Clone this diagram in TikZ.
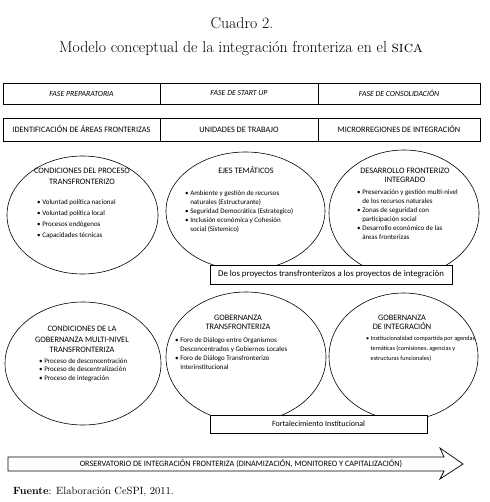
\documentclass[tikz,border=0pt]{standalone}
\usepackage{fontspec}
\newfontfamily\cf{Carlito}
\usetikzlibrary{shapes.geometric}
\newcommand\mybul{\textbullet\ }
\newcommand\myind{\phantom{\textbullet\ }}
\begin{document}
\begin{tikzpicture}[x=1pt,y=-1pt,
  every node/.style={inner sep=0pt},
  ell/.style={draw, ellipse, line width=0.6pt},
  bx/.style={draw, line width=0.8pt, fill=white},
  cellbox/.style={draw, line width=0.8pt},
  phase/.style={font=\cf\fontsize{7.8}{9}\selectfont\itshape},
  unit/.style={font=\cf\fontsize{8.3}{9}\selectfont},
  hdr/.style={font=\cf\fontsize{8.3}{#1}\selectfont, align=center, anchor=north},
  hdr/.default=9,
  bul/.style={font=\cf\fontsize{7}{#1}\selectfont, align=left, anchor=north west},
  bul/.default=9]
\useasboundingbox (0,0) rectangle (489,502);

% titles
\node[font=\fontsize{15.8}{18}\selectfont] (t1) at (242,23) {Cuadro 2.};
\node[font=\fontsize{15.8}{18}\selectfont] (t2) at (241,49) {Modelo conceptual de la integración fronteriza en el \textsc{sica}};

% phase rows
\node[cellbox, phase, minimum width=157pt, minimum height=21pt] (p1) at (81.5,93.5) {FASE PREPARATORIA};
\node[cellbox, phase, minimum width=158pt, minimum height=21pt] (p2) at (239,93.5) {FASE DE START UP};
\node[cellbox, phase, minimum width=162pt, minimum height=21pt] (p3) at (399,93.5) {FASE DE CONSOLIDACIÓN};
\node[cellbox, unit, minimum width=157pt, minimum height=23pt] (u1) at (81.5,129.5) {IDENTIFICACIÓN DE ÁREAS FRONTERIZAS};
\node[cellbox, unit, minimum width=158pt, minimum height=23pt] (u2) at (239,129.5) {UNIDADES DE TRABAJO};
\node[cellbox, unit, minimum width=162pt, minimum height=23pt] (u3) at (399,129.5) {MICRORREGIONES DE INTEGRACIÓN};

% ellipses
\node[ell, minimum width=151pt, minimum height=118pt] (e1) at (82.5,215) {};
\node[ell, minimum width=159pt, minimum height=118pt] (e2) at (245.5,211) {};
\node[ell, minimum width=150pt, minimum height=126pt] (e3) at (404,213) {};
\node[ell, minimum width=156pt, minimum height=123pt] (e4) at (83,363.5) {};
\node[ell, minimum width=160pt, minimum height=130pt] (e5) at (246,357) {};
\node[ell, minimum width=149pt, minimum height=127pt] (e6) at (403.5,356.5) {};

% overlay boxes
\node[bx, minimum width=242pt, minimum height=19pt, font=\cf\fontsize{8.8}{10}\selectfont] (b1) at (331,274.5) {De los proyectos transfronterizos a los proyectos de integración};
\node[bx, minimum width=217pt, minimum height=18pt, font=\cf\fontsize{8}{9}\selectfont] (b2) at (318.5,424) {Fortalecimiento Institucional};

% ellipse texts
\node[hdr=11] (h1) at (82,168) {CONDICIONES DEL PROCESO\\TRANSFRONTERIZO};
\node[bul=11.3] (l1) at (37,199) {\mybul Voluntad política nacional\\\mybul Voluntad política local\\\mybul Procesos endógenos\\\mybul Capacidades técnicas};

\node[hdr] (h2) at (246,166.5) {EJES TEMÁTICOS};
\node[bul] (l2) at (185,190) {\mybul Ambiente y gestión de recursos\\\myind naturales (Estructurante)\\\mybul Seguridad Democrática (Estrategico)\\\mybul Inclusión económica y Cohesión\\\myind social (Sistemico)};

\node[hdr] (h3) at (405,168) {DESARROLLO FRONTERIZO\\INTEGRADO};
\node[bul] (l3) at (357,189) {\mybul Preservación y gestión multi-nivel\\\myind de los recursos naturales\\\mybul Zonas de seguridad con\\\myind participación social\\\mybul Desarrollo económico de las\\\myind áreas fronterizas};

\node[hdr=10.5] (h4) at (82,326) {CONDICIONES DE LA\\GOBERNANZA MULTI-NIVEL\\TRANSFRONTERIZA};
\node[bul=8.5] (l4) at (39,358) {\mybul Proceso de desconcentración\\\mybul Proceso de descentralización\\\mybul Proceso de integración};

\node[hdr] (h5) at (238,315) {GOBERNANZA\\TRANSFRONTERIZA};
\node[bul] (l5) at (175,337) {\mybul Foro de Diálogo entre Organismos\\\myind Desconcentrados y Gobiernos Locales\\\mybul Foro de Diálogo Transfronterizo\\\myind Interinstitucional};

\node[hdr] (h6) at (402,315) {GOBERNANZA\\DE INTEGRACIÓN};
\node[bul=10, font=\cf\fontsize{6.2}{10}\selectfont] (l6) at (366,336) {\mybul Institucionalidad compartida por agendas\\\myind temáticas (comisiones, agencias y\\\myind estructuras funcionales)};

% observatory arrow
\draw[line width=0.7pt] (8,457) -- (444,457) -- (440,448) -- (463,464) -- (440,479) -- (444,471) -- (8,471) -- cycle;
\node[font=\cf\fontsize{8.2}{9}\selectfont] (obs) at (241,464) {ORSERVATORIO DE INTEGRACIÓN FRONTERIZA (DINAMIZACIÓN, MONITOREO Y CAPITALIZACIÓN)};

% source
\node[anchor=west, font=\fontsize{10.5}{12}\selectfont] (src) at (13,492) {\textbf{Fuente}: Elaboración CeSPI, 2011.};
\end{tikzpicture}
\end{document}
